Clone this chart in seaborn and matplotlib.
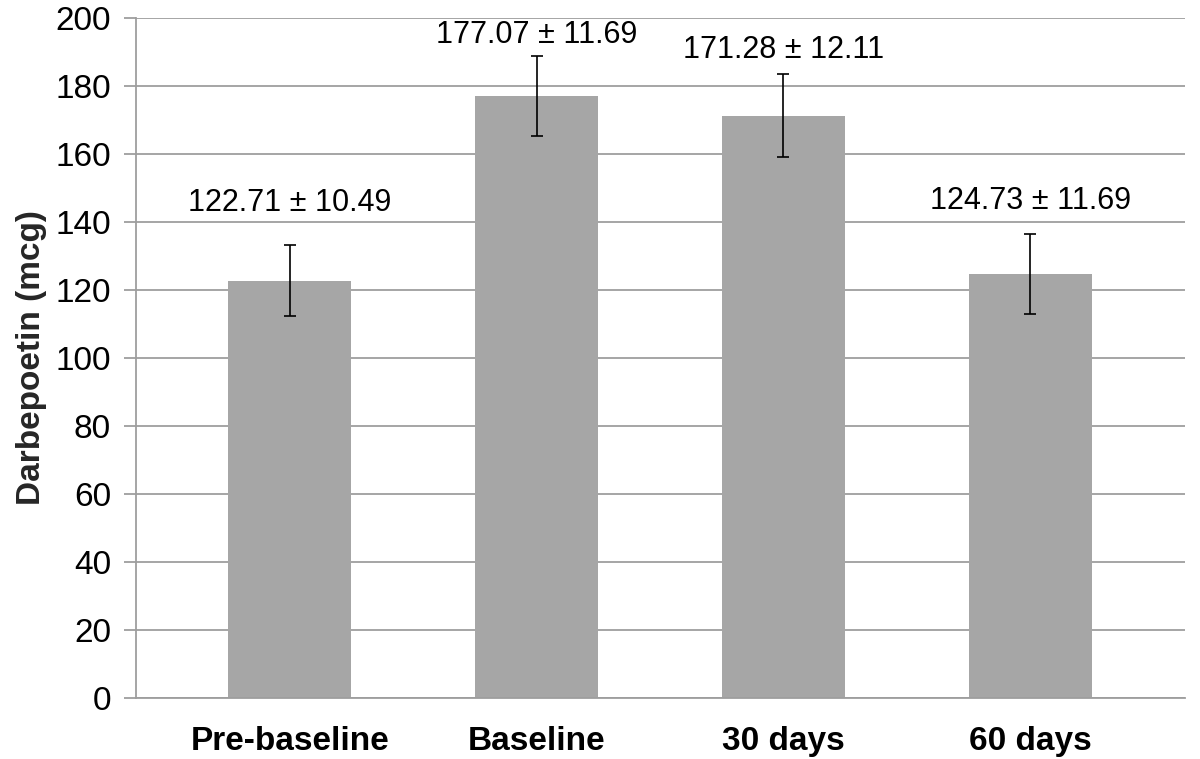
import pandas as pd
import seaborn as sns
import matplotlib.pyplot as plt

# values
periods = ['Pre-baseline', 'Baseline', '30 days', '60 days']
means = [122.71, 177.07, 171.28, 124.73]
errors = [10.49, 11.69, 12.11, 11.69]
y_ticks = [0, 20, 40, 60, 80, 100, 120, 140, 160, 180, 200]

df = pd.DataFrame({'period': periods, 'mean': means, 'err': errors})

sns.set_theme(style='white')
plt.rcParams['font.family'] = ['Liberation Sans', 'DejaVu Sans']

grey = '#a6a6a6'
line_grey = '#9e9e9e'

fig = plt.figure(figsize=(12, 7.59), dpi=100)
ax = fig.add_axes([0.1133, 0.0804, 0.8742, 0.8959])

sns.barplot(data=df, x='period', y='mean', color=grey, width=0.5,
            saturation=1, errorbar=None, ax=ax, zorder=2)
for p in ax.patches:
    p.set_edgecolor('none')

ax.errorbar(range(len(df)), df['mean'], yerr=df['err'], fmt='none',
            ecolor='black', elinewidth=1.2, capsize=4, capthick=1.2, zorder=3)

# label offsets above the error bar tops (pixels), placed by hand in the original
offsets = [42, 21, 24, 33]
for i, row in df.iterrows():
    ax.annotate(f"{row['mean']:.2f} \u00b1 {row['err']:.2f}",
                (i, row['mean'] + row['err']), xytext=(0, offsets[i]),
                textcoords='offset pixels', ha='center', va='center',
                fontsize=22, color='black')

ax.set_ylim(0, 200)
ax.set_xlim(-0.623, 3.627)
ax.set_yticks(y_ticks)
ax.yaxis.grid(True, color=line_grey, linewidth=1.3, zorder=0)
ax.set_axisbelow(True)

for side in ['top', 'right']:
    ax.spines[side].set_visible(False)
for side in ['left', 'bottom']:
    ax.spines[side].set_color(line_grey)
    ax.spines[side].set_linewidth(1.3)

ax.tick_params(axis='y', left=True, length=9, width=1.3, color=line_grey,
               pad=9, labelsize=24, labelcolor='black')
ax.tick_params(axis='x', bottom=False, pad=14, labelsize=24, labelcolor='black')
for lbl in ax.get_xticklabels():
    lbl.set_fontweight('bold')

ax.set_xlabel('')
ax.set_ylabel('Darbepoetin (mcg)', fontsize=24, fontweight='bold', labelpad=6)

fig.savefig('out.png', dpi=100)
